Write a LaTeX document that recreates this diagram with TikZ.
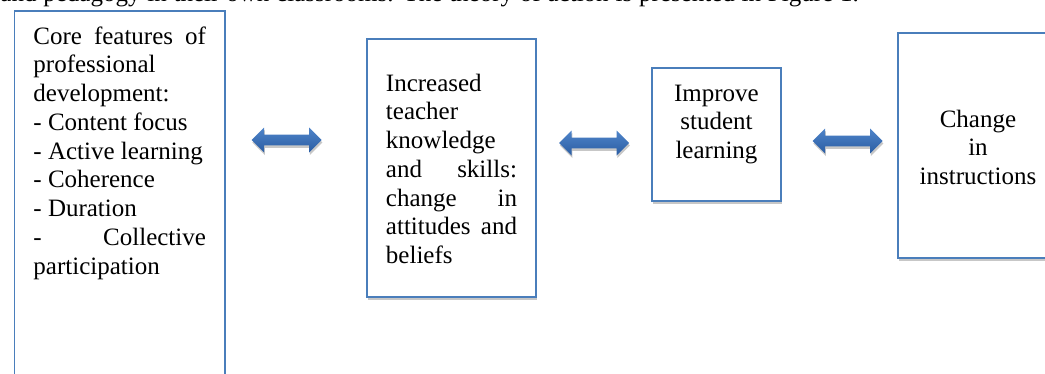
\documentclass[tikz,border=0pt]{standalone}
\usepackage{fontspec}
\setmainfont{Liberation Serif}
\usepackage{tikz}
\usetikzlibrary{shapes.arrows,shadows}
\definecolor{edge}{HTML}{4A7EBB}
\definecolor{arrowtop}{HTML}{4F84C9}
\definecolor{arrowbot}{HTML}{2A5DA3}
\definecolor{ink}{HTML}{000000}
\tikzset{
  txt/.style={text=ink, font=\fontsize{12pt}{13.8pt}\selectfont, inner sep=0pt},
  box/.style={txt, draw=edge, fill=white, line width=0.95pt, inner xsep=9.1pt, inner ysep=0pt,
    anchor=base west, drop shadow={shadow xshift=0.5pt, shadow yshift=-1.3pt, fill=black, opacity=0.22}},
  just/.style={box, align=justify},
  mid/.style={box, align=center},
  twoway/.style={double arrow, double arrow head extend=3.4pt, minimum height=33.6pt,
    inner xsep=0pt, inner ysep=2.4pt, draw=none, top color=arrowtop, bottom color=arrowbot,
    drop shadow={shadow xshift=0.4pt, shadow yshift=-1.2pt, fill=black, opacity=0.22}}
}

\begin{document}
\begin{tikzpicture}[x=0.48pt, y=-0.48pt]
  \clip (0,0) rectangle (1045,373);
  % running text cut by the page top
  \node[txt, anchor=base west] (caption) at (0,2)
    {\makebox[412pt][s]{and pedagogy in their own classrooms. The theory of action is presented in Figure 1.}};

  \node[just, text width=82.8pt, text height=15.8pt, text depth=171pt] (core) at (13.5,44)
    {Core features of\linebreak professional\\ development:\\ - Content focus\\ - Active learning\\
     - Coherence\\ - Duration\\ - Collective\linebreak participation};
  \node[just, text width=62.9pt, text height=25pt, text depth=98.9pt] (teacher) at (366,91)
    {Increased\\ teacher\\ knowledge\\ and skills:\linebreak change in\linebreak attitudes and\linebreak beliefs};
  \node[mid, text width=43.7pt, text height=15.8pt, text depth=48pt] (student) at (651,101)
    {Improve\\ student\\ learning};
  \node[mid, text width=58.6pt, text height=45.1pt, text depth=62.9pt] (instr) at (897,127)
    {Change\\ in\\ instructions};

  \node[twoway] (arrA) at (286.5,140) {};
  \node[twoway] (arrB) at (594,143) {};
  \node[twoway] (arrC) at (847.5,141) {};
\end{tikzpicture}
\end{document}
